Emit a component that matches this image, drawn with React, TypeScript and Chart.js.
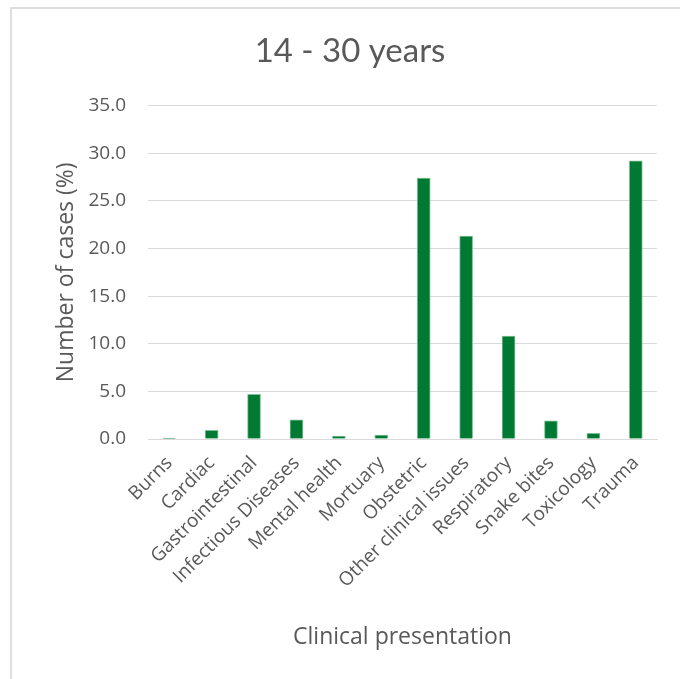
import React, { useEffect, useRef } from "react";
import { Chart, registerables } from "chart.js";

Chart.register(...registerables);

const categories = [
  "Burns",
  "Cardiac",
  "Gastrointestinal",
  "Infectious Diseases",
  "Mental health",
  "Mortuary",
  "Obstetric",
  "Other clinical issues",
  "Respiratory",
  "Snake bites",
  "Toxicology",
  "Trauma",
];

const casesPercent = [0.1, 0.9, 4.7, 2.0, 0.3, 0.4, 27.4, 21.3, 10.8, 1.9, 0.6, 29.2];

const chartTitle = "14 - 30 years";
const yAxisTitle = "Number of cases (%)";
const xAxisTitle = "Clinical presentation";

const yMin = 0;
const yMax = 35;
const yStep = 5;

const W = 680;
const H = 679;
const PAD_LEFT = 43;
const TEXT = "#595959";
const GRID = "#D9D9D9";
const FONT = "'Open Sans', 'Noto Sans', sans-serif";

export default function App() {
  const canvasRef = useRef<HTMLCanvasElement | null>(null);

  useEffect(() => {
    const canvas = canvasRef.current;
    if (!canvas) return;
    const chart = new Chart(canvas, {
      type: "bar",
      data: {
        labels: categories,
        datasets: [
          {
            data: casesPercent,
            backgroundColor: "#007A33",
            borderColor: "#7fbf95",
            borderWidth: 1,
            barThickness: 13,
          },
        ],
      },
      options: {
        animation: false,
        responsive: false,
        maintainAspectRatio: false,
        layout: { padding: { left: PAD_LEFT, right: 23, top: 0, bottom: 0 } },
        plugins: {
          legend: { display: false },
          tooltip: { enabled: false },
          title: {
            display: true,
            text: chartTitle,
            color: TEXT,
            font: { family: "Lato, 'Open Sans', sans-serif", size: 33, weight: "normal", lineHeight: 1.2 },
            padding: { top: 32, bottom: 34 },
          },
        },
        scales: {
          x: {
            grid: { display: false, drawTicks: false },
            border: { display: true, color: GRID, width: 1 },
            ticks: {
              autoSkip: false,
              minRotation: 45,
              maxRotation: 45,
              color: TEXT,
              padding: 13,
              font: { family: FONT, size: 19 },
            },
            title: {
              display: true,
              text: xAxisTitle,
              color: TEXT,
              font: { family: FONT, size: 23 },
              padding: { top: 0, bottom: 28 },
            },
            afterFit: (s: any) => {
              s.height = H - 439;
            },
          },
          y: {
            min: yMin,
            max: yMax,
            grid: { color: GRID, lineWidth: 1, drawTicks: false },
            border: { display: false },
            ticks: {
              stepSize: yStep,
              color: TEXT,
              padding: 22,
              font: { family: FONT, size: 19 },
              callback: (v: any) => Number(v).toFixed(1),
            },
            title: {
              display: true,
              text: yAxisTitle,
              color: TEXT,
              font: { family: FONT, size: 23 },
              padding: { top: 53 - PAD_LEFT, bottom: 0 },
            },
            afterFit: (s: any) => {
              s.width = 148 - PAD_LEFT;
            },
          },
        },
      },
    });
    return () => chart.destroy();
  }, []);

  return (
    <div style={{ position: "fixed", left: 0, top: 0, width: W, height: H, background: "#fff", overflow: "hidden" }}>
      <div
        style={{
          position: "absolute",
          left: 10,
          top: 7,
          width: W + 20,
          height: H + 20,
          borderTop: "2px solid #DEDEDE",
          borderLeft: "2px solid #DEDEDE",
        }}
      />
      <canvas ref={canvasRef} width={W} height={H} style={{ position: "absolute", left: 0, top: 0 }} />
    </div>
  );
}
